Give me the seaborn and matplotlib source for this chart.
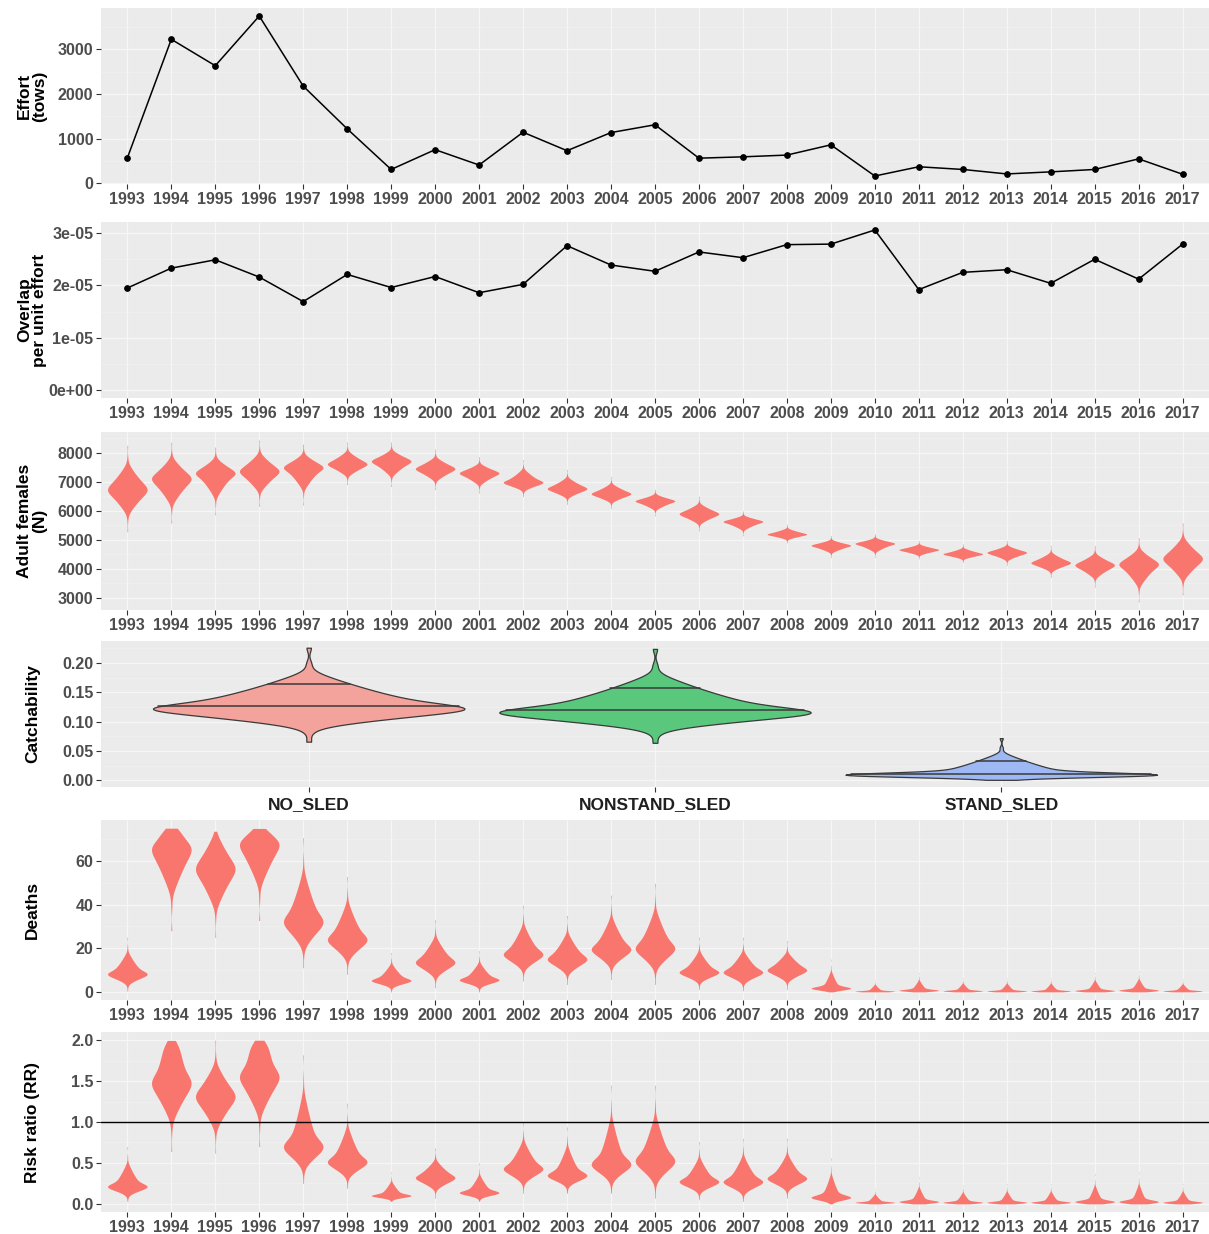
import numpy as np
import pandas as pd
import matplotlib
matplotlib.use('Agg')
import matplotlib.pyplot as plt
from matplotlib.ticker import AutoMinorLocator, FixedLocator
import seaborn as sns

# ggplot-like grey panel look
sns.set_theme(style="darkgrid", rc={
    "axes.facecolor": "#EBEBEB",
    "grid.color": "#F6F6F6",
    "xtick.bottom": True,
    "ytick.left": True,
})
plt.rcParams['font.family'] = ['Liberation Sans', 'DejaVu Sans']

years = list(range(1993, 2018))
year_labels = [str(y) for y in years]

# effort (tows) and overlap per unit effort
effort = [570, 3220, 2630, 3740, 2175, 1220, 313, 755, 412, 1144, 732, 1137, 1311,
          565, 595, 634, 863, 167, 373, 313, 213, 259, 313, 549, 206]
overlap = [1.95e-05, 2.33e-05, 2.49e-05, 2.16e-05, 1.69e-05, 2.21e-05, 1.96e-05, 2.17e-05,
           1.86e-05, 2.02e-05, 2.76e-05, 2.39e-05, 2.27e-05, 2.64e-05, 2.53e-05, 2.78e-05,
           2.79e-05, 3.06e-05, 1.92e-05, 2.25e-05, 2.30e-05, 2.04e-05, 2.50e-05, 2.12e-05, 2.79e-05]

# posterior summaries: lower tail, mode, upper tail
adult_lo = [5280, 5580, 5860, 6160, 6200, 6910, 6840, 6740, 6620, 6500, 6230, 6090, 5830,
            5310, 5140, 4900, 4390, 4390, 4350, 4220, 4120, 3710, 3370, 2860, 3100]
adult_mid = [6740, 7080, 7250, 7350, 7450, 7620, 7690, 7450, 7290, 7010, 6780, 6600, 6330,
             5900, 5620, 5200, 4800, 4860, 4660, 4520, 4560, 4220, 4120, 4120, 4350]
adult_hi = [8260, 8370, 8200, 8440, 8300, 8370, 8370, 8130, 7860, 7760, 7420, 7180, 6740,
            6500, 5990, 5540, 5140, 5200, 4970, 4860, 4970, 4800, 4800, 5070, 5580]

gears = ["NO_SLED", "NONSTAND_SLED", "STAND_SLED"]
catch_lo = [0.066, 0.064, 0.001]
catch_mid = [0.126, 0.120, 0.011]
catch_hi = [0.226, 0.224, 0.072]
catch_upper = [0.165, 0.157, 0.033]
catch_colors = ["#F4A29C", "#59C87C", "#9DB8F2"]

deaths_lo = [0.3, 28, 25, 32.7, 11, 8, 0, 1.9, 0, 5, 3.4, 5.7, 3.4,
             1.1, 0.5, 1.1, 0, 0, 0, 0, 0, 0, 0, 0, 0]
deaths_mid = [8.8, 68, 56, 70, 33.5, 25, 5.7, 14.2, 6, 18, 15.7, 20.4, 21,
              9.6, 9.6, 10.4, 1.9, 0.3, 0.8, 0.5, 0.4, 0.4, 0.6, 0.8, 0.4]
deaths_hi = [25, 150, 85, 150, 70.6, 52.8, 18, 33, 18.8, 39.7, 35, 44.3, 49.7,
             25, 25, 23.5, 15, 5.7, 8.8, 6.5, 6.5, 6.5, 8.8, 9.6, 6]
DEATHS_MAX = 75

rr_lo = [0.03, 0.64, 0.62, 0.70, 0.25, 0.19, 0.03, 0.07, 0.03, 0.13, 0.13, 0.13, 0.07,
         0.05, 0.03, 0.07, 0, 0, 0, 0, 0, 0, 0, 0, 0]
rr_mid = [0.23, 1.53, 1.31, 1.61, 0.74, 0.54, 0.11, 0.33, 0.15, 0.45, 0.37, 0.52, 0.56,
          0.29, 0.29, 0.33, 0.09, 0.02, 0.03, 0.02, 0.02, 0.02, 0.03, 0.03, 0.02]
rr_hi = [0.70, 3.0, 2.0, 3.2, 1.82, 1.23, 0.39, 0.68, 0.50, 1.00, 0.94, 1.45, 1.45,
         0.76, 0.80, 0.80, 0.56, 0.19, 0.33, 0.23, 0.25, 0.25, 0.37, 0.39, 0.25]
RR_MAX = 2.0

VIOLIN_RED = "#F8766D"

# fixed template on [-1, 1]: a triangular body plus a thin Laplace tail,
# used to turn the read-off summaries into draws for the kde
_pc = (np.arange(140) + 0.5) / 140
_core = np.where(_pc < 0.5, -0.6 + 0.6 * np.sqrt(2 * _pc), 0.6 - 0.6 * np.sqrt(2 * (1 - _pc)))
_pt = (np.arange(60) + 0.5) / 60 - 0.5
_tail = -np.sign(_pt) * np.log(1 - 2 * np.abs(_pt))
_tail = _tail / np.abs(_tail).max()
TEMPLATE = np.concatenate([_core, _tail])


def draws(lo, mid, hi):
    return mid + np.where(TEMPLATE < 0, TEMPLATE * (mid - lo), TEMPLATE * (hi - mid))


def long_frame(labels, lo, mid, hi, cap=None):
    parts = []
    for lab, a, m, b in zip(labels, lo, mid, hi):
        v = draws(a, m, b)
        if cap is not None:
            v = v[v <= cap]
        parts.append(pd.DataFrame({"x": lab, "y": v}))
    return pd.concat(parts, ignore_index=True)


def expand(lo, hi, mult=0.05):
    pad = (hi - lo) * mult
    return lo - pad, hi + pad


def style_axis(ax, ylabel, yticks, yticklabels=None, ylim=None, xlim=(-0.6, 24.6)):
    ax.set_xlim(*xlim)
    if ylim is not None:
        ax.set_ylim(*ylim)
    ax.yaxis.set_major_locator(FixedLocator(yticks))
    if yticklabels is not None:
        ax.set_yticklabels(yticklabels)
    ax.yaxis.set_minor_locator(AutoMinorLocator(2))
    ax.grid(True, which="major", color="#F6F6F6", linewidth=0.9)
    ax.grid(True, which="minor", axis="y", color="#F2F2F2", linewidth=0.5)
    ax.set_xlabel("")
    ax.set_ylabel(ylabel, fontsize=12.5, fontweight="bold", color="black",
                  va="center", ha="center", linespacing=1.0)
    ax.yaxis.set_label_coords(-0.062, 0.5)
    ax.tick_params(axis="both", which="major", length=3.5, width=0.8, color="#333333",
                   labelsize=11.5, labelcolor="#4D4D4D", pad=2)
    ax.tick_params(axis="both", which="minor", length=0)
    for lab in ax.get_xticklabels() + ax.get_yticklabels():
        lab.set_fontweight("bold")
    for s in ax.spines.values():
        s.set_visible(False)


def line_at(ax, coll, center, yval, color="#3A3A3A"):
    # horizontal segment across the drawn violin at a given value
    v = coll.get_paths()[0].vertices
    left = v[v[:, 0] <= center]
    right = v[v[:, 0] >= center]
    left = left[np.argsort(left[:, 1])]
    right = right[np.argsort(right[:, 1])]
    xl = np.interp(yval, left[:, 1], left[:, 0])
    xr = np.interp(yval, right[:, 1], right[:, 0])
    ax.plot([xl, xr], [yval, yval], color=color, linewidth=1.1, zorder=5)


fig = plt.figure(figsize=(12.09, 12.34), dpi=100)
left, width = 0.0835, 0.9165
rows = [(0.8509, 0.1426), (0.6775, 0.1426), (0.5057, 0.1442),
        (0.3622, 0.1183), (0.1896, 0.1459), (0.0178, 0.1459)]
axes = [fig.add_axes([left, b, width, h]) for b, h in rows]

# 1. Effort
ax = axes[0]
sns.pointplot(x=year_labels, y=effort, color="black", markers="o", markersize=4,
              linewidth=1.1, errorbar=None, ax=ax)
style_axis(ax, "Effort\n(tows)", [0, 1000, 2000, 3000],
           ylim=expand(min(effort), max(effort)))

# 2. Overlap per unit effort
ax = axes[1]
sns.pointplot(x=year_labels, y=overlap, color="black", markers="o", markersize=4,
              linewidth=1.1, errorbar=None, ax=ax)
style_axis(ax, "Overlap\nper unit effort", [0, 1e-05, 2e-05, 3e-05],
           ["0e+00", "1e-05", "2e-05", "3e-05"], ylim=expand(0, max(overlap)))

violin_kw = dict(saturation=1, inner=None, cut=0, width=0.9, density_norm="width",
                 bw_adjust=0.9)

# 3. Adult females
ax = axes[2]
df_adult = long_frame(year_labels, adult_lo, adult_mid, adult_hi)
sns.violinplot(data=df_adult, x="x", y="y", order=year_labels, color=VIOLIN_RED,
               linewidth=0, ax=ax, **violin_kw)
style_axis(ax, "Adult females\n(N)", [3000, 4000, 5000, 6000, 7000, 8000],
           ylim=expand(min(adult_lo), max(adult_hi)))

# 4. Catchability
ax = axes[3]
df_catch = long_frame(gears, catch_lo, catch_mid, catch_hi)
sns.violinplot(data=df_catch, x="x", y="y", hue="x", order=gears, hue_order=gears,
               palette=catch_colors, linewidth=0.9, linecolor="#3A3A3A",
               legend=False, ax=ax, **violin_kw)
for i, coll in enumerate(ax.collections[:len(gears)]):
    line_at(ax, coll, i, catch_mid[i])
    line_at(ax, coll, i, catch_upper[i])
style_axis(ax, "Catchability", [0.0, 0.05, 0.10, 0.15, 0.20],
           ["0.00", "0.05", "0.10", "0.15", "0.20"],
           ylim=expand(0, max(catch_hi)), xlim=(-0.6, 2.6))
ax.tick_params(axis="x", labelsize=12.5, labelcolor="#1F1F1F", pad=4)

# 5. Deaths
ax = axes[4]
df_deaths = long_frame(year_labels, deaths_lo, deaths_mid, deaths_hi, cap=DEATHS_MAX)
sns.violinplot(data=df_deaths, x="x", y="y", order=year_labels, color=VIOLIN_RED,
               linewidth=0, ax=ax, **violin_kw)
style_axis(ax, "Deaths", [0, 20, 40, 60], ylim=expand(0, DEATHS_MAX))

# 6. Risk ratio
ax = axes[5]
df_rr = long_frame(year_labels, rr_lo, rr_mid, rr_hi, cap=RR_MAX)
sns.violinplot(data=df_rr, x="x", y="y", order=year_labels, color=VIOLIN_RED,
               linewidth=0, ax=ax, **violin_kw)
ax.axhline(1.0, color="black", linewidth=1.0)
style_axis(ax, "Risk ratio (RR)", [0.0, 0.5, 1.0, 1.5, 2.0],
           ["0.0", "0.5", "1.0", "1.5", "2.0"], ylim=expand(0, RR_MAX))

fig.savefig("out.png", dpi=100)
